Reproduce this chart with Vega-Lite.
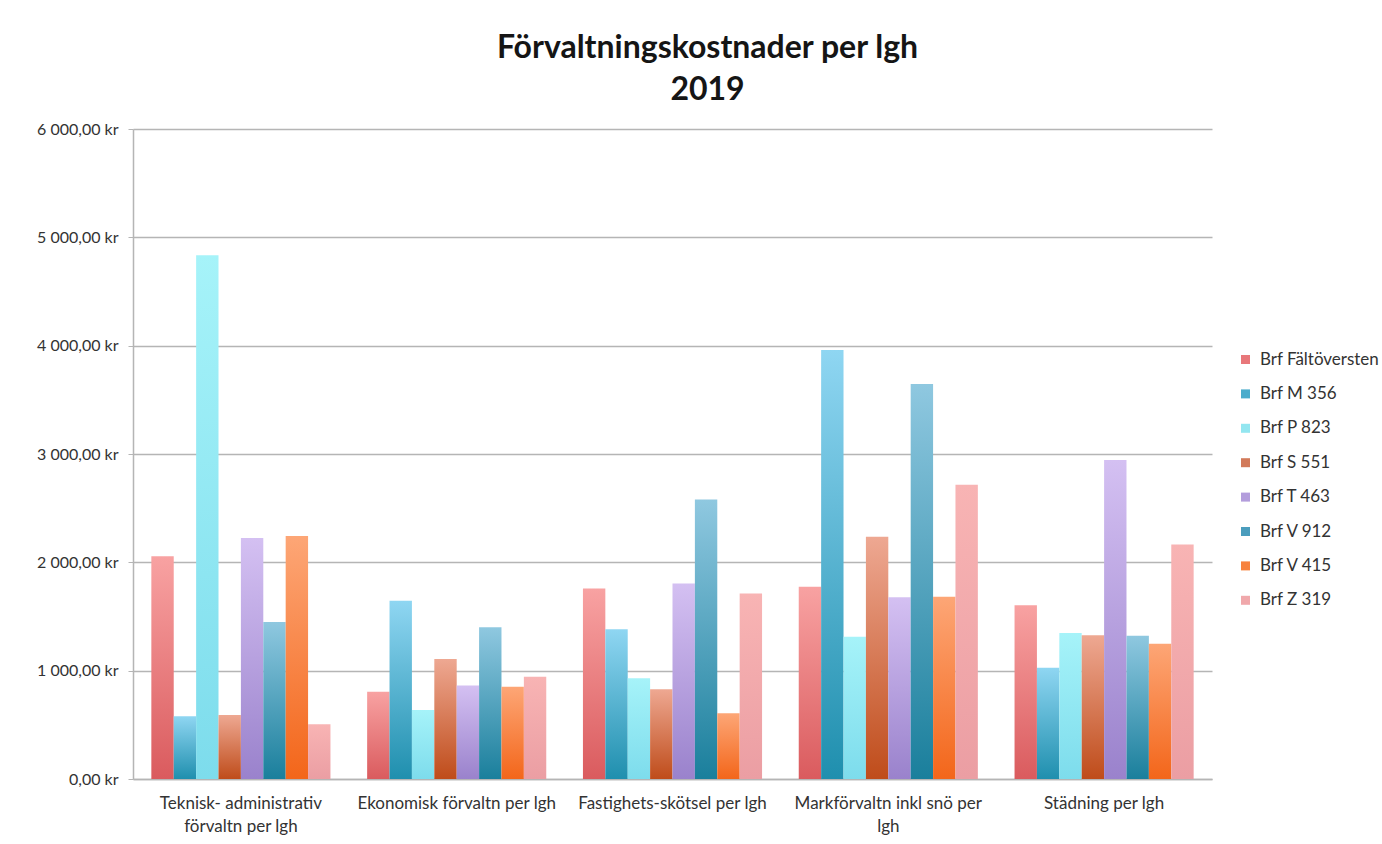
{
  "$schema": "https://vega.github.io/schema/vega-lite/v6.json",
  "width": 1079,
  "height": 650,
  "autosize": {"type": "none"},
  "padding": {"left": 133, "top": 129, "right": 170, "bottom": 65},
  "background": "white",
  "title": {
    "text": ["Förvaltningskostnader per lgh", "2019"],
    "font": "Lato",
    "fontSize": 32,
    "fontWeight": "bold",
    "color": "#151515",
    "lineHeight": 42,
    "anchor": "middle",
    "dx": 35,
    "offset": 14
  },
  "data": {
    "values": [
      {"kategori": "Teknisk- administrativ förvaltn per lgh", "brf": "Brf Fältöversten", "kostnad": 2056},
      {"kategori": "Teknisk- administrativ förvaltn per lgh", "brf": "Brf M 356", "kostnad": 580},
      {"kategori": "Teknisk- administrativ förvaltn per lgh", "brf": "Brf P 823", "kostnad": 4835},
      {"kategori": "Teknisk- administrativ förvaltn per lgh", "brf": "Brf S 551", "kostnad": 590},
      {"kategori": "Teknisk- administrativ förvaltn per lgh", "brf": "Brf T 463", "kostnad": 2225},
      {"kategori": "Teknisk- administrativ förvaltn per lgh", "brf": "Brf V 912", "kostnad": 1449},
      {"kategori": "Teknisk- administrativ förvaltn per lgh", "brf": "Brf V 415", "kostnad": 2242},
      {"kategori": "Teknisk- administrativ förvaltn per lgh", "brf": "Brf Z 319", "kostnad": 505},
      {"kategori": "Ekonomisk förvaltn per lgh", "brf": "Brf Fältöversten", "kostnad": 806},
      {"kategori": "Ekonomisk förvaltn per lgh", "brf": "Brf M 356", "kostnad": 1646},
      {"kategori": "Ekonomisk förvaltn per lgh", "brf": "Brf P 823", "kostnad": 637},
      {"kategori": "Ekonomisk förvaltn per lgh", "brf": "Brf S 551", "kostnad": 1108},
      {"kategori": "Ekonomisk förvaltn per lgh", "brf": "Brf T 463", "kostnad": 862},
      {"kategori": "Ekonomisk förvaltn per lgh", "brf": "Brf V 912", "kostnad": 1400},
      {"kategori": "Ekonomisk förvaltn per lgh", "brf": "Brf V 415", "kostnad": 852},
      {"kategori": "Ekonomisk förvaltn per lgh", "brf": "Brf Z 319", "kostnad": 945},
      {"kategori": "Fastighets-skötsel per lgh", "brf": "Brf Fältöversten", "kostnad": 1759},
      {"kategori": "Fastighets-skötsel per lgh", "brf": "Brf M 356", "kostnad": 1382},
      {"kategori": "Fastighets-skötsel per lgh", "brf": "Brf P 823", "kostnad": 930},
      {"kategori": "Fastighets-skötsel per lgh", "brf": "Brf S 551", "kostnad": 829},
      {"kategori": "Fastighets-skötsel per lgh", "brf": "Brf T 463", "kostnad": 1805},
      {"kategori": "Fastighets-skötsel per lgh", "brf": "Brf V 912", "kostnad": 2579},
      {"kategori": "Fastighets-skötsel per lgh", "brf": "Brf V 415", "kostnad": 608},
      {"kategori": "Fastighets-skötsel per lgh", "brf": "Brf Z 319", "kostnad": 1713},
      {"kategori": "Markförvaltn inkl snö per lgh", "brf": "Brf Fältöversten", "kostnad": 1775},
      {"kategori": "Markförvaltn inkl snö per lgh", "brf": "Brf M 356", "kostnad": 3960},
      {"kategori": "Markförvaltn inkl snö per lgh", "brf": "Brf P 823", "kostnad": 1314},
      {"kategori": "Markförvaltn inkl snö per lgh", "brf": "Brf S 551", "kostnad": 2237},
      {"kategori": "Markförvaltn inkl snö per lgh", "brf": "Brf T 463", "kostnad": 1677},
      {"kategori": "Markförvaltn inkl snö per lgh", "brf": "Brf V 912", "kostnad": 3646},
      {"kategori": "Markförvaltn inkl snö per lgh", "brf": "Brf V 415", "kostnad": 1683},
      {"kategori": "Markförvaltn inkl snö per lgh", "brf": "Brf Z 319", "kostnad": 2717},
      {"kategori": "Städning per lgh", "brf": "Brf Fältöversten", "kostnad": 1603},
      {"kategori": "Städning per lgh", "brf": "Brf M 356", "kostnad": 1027},
      {"kategori": "Städning per lgh", "brf": "Brf P 823", "kostnad": 1347},
      {"kategori": "Städning per lgh", "brf": "Brf S 551", "kostnad": 1326},
      {"kategori": "Städning per lgh", "brf": "Brf T 463", "kostnad": 2945},
      {"kategori": "Städning per lgh", "brf": "Brf V 912", "kostnad": 1323},
      {"kategori": "Städning per lgh", "brf": "Brf V 415", "kostnad": 1249},
      {"kategori": "Städning per lgh", "brf": "Brf Z 319", "kostnad": 2165}
    ]
  },
  "mark": {"type": "bar", "strokeWidth": 0},
  "encoding": {
    "x": {
      "field": "kategori",
      "type": "nominal",
      "sort": null,
      "scale": {"paddingInner": 0.17, "paddingOuter": 0.085},
      "axis": {
        "title": null,
        "labelAngle": 0,
        "labelFont": "Lato",
        "labelFontSize": 17,
        "labelColor": "#333333",
        "labelPadding": 16,
        "labelLineHeight": 23,
        "labelLimit": 300,
        "domainColor": "#b5b5b5",
        "domainWidth": 1.5,
        "ticks": false,
        "labelExpr": "datum.value == 'Teknisk- administrativ förvaltn per lgh' ? ['Teknisk- administrativ', 'förvaltn per lgh'] : datum.value == 'Markförvaltn inkl snö per lgh' ? ['Markförvaltn inkl snö per', 'lgh'] : datum.value"
      }
    },
    "xOffset": {
      "field": "brf",
      "type": "nominal",
      "sort": ["Brf Fältöversten", "Brf M 356", "Brf P 823", "Brf S 551", "Brf T 463", "Brf V 912", "Brf V 415", "Brf Z 319"],
      "scale": {"paddingInner": 0, "paddingOuter": 0}
    },
    "y": {
      "field": "kostnad",
      "type": "quantitative",
      "scale": {"domain": [0, 6000], "nice": false},
      "axis": {
        "title": null,
        "values": [0, 1000, 2000, 3000, 4000, 5000, 6000],
        "labelFont": "Lato",
        "labelFontSize": 16,
        "labelColor": "#333333",
        "labelPadding": 10,
        "labelExpr": "replace(replace(format(datum.value, ',.2f'), ',', ' '), '.', ',') + ' kr'",
        "grid": true,
        "gridColor": "#b5b5b5",
        "gridWidth": 1.5,
        "domainColor": "#b5b5b5",
        "domainWidth": 1.5,
        "tickColor": "#b5b5b5",
        "tickSize": 5
      }
    },
    "fill": {
      "condition": [
        {"test": "datum.brf == 'Brf Fältöversten'", "value": {"gradient": "linear", "x1": 0, "y1": 0, "x2": 0, "y2": 1, "stops": [{"offset": 0, "color": "#f8a2a2"}, {"offset": 1, "color": "#da5b5e"}]}},
        {"test": "datum.brf == 'Brf M 356'", "value": {"gradient": "linear", "x1": 0, "y1": 0, "x2": 0, "y2": 1, "stops": [{"offset": 0, "color": "#8fd6f2"}, {"offset": 1, "color": "#1f8fae"}]}},
        {"test": "datum.brf == 'Brf P 823'", "value": {"gradient": "linear", "x1": 0, "y1": 0, "x2": 0, "y2": 1, "stops": [{"offset": 0, "color": "#a6f3f9"}, {"offset": 1, "color": "#7ddcec"}]}},
        {"test": "datum.brf == 'Brf S 551'", "value": {"gradient": "linear", "x1": 0, "y1": 0, "x2": 0, "y2": 1, "stops": [{"offset": 0, "color": "#eea892"}, {"offset": 1, "color": "#bf4c1a"}]}},
        {"test": "datum.brf == 'Brf T 463'", "value": {"gradient": "linear", "x1": 0, "y1": 0, "x2": 0, "y2": 1, "stops": [{"offset": 0, "color": "#d4c0f2"}, {"offset": 1, "color": "#9a82cc"}]}},
        {"test": "datum.brf == 'Brf V 912'", "value": {"gradient": "linear", "x1": 0, "y1": 0, "x2": 0, "y2": 1, "stops": [{"offset": 0, "color": "#8fc8e0"}, {"offset": 1, "color": "#1a7f9c"}]}},
        {"test": "datum.brf == 'Brf V 415'", "value": {"gradient": "linear", "x1": 0, "y1": 0, "x2": 0, "y2": 1, "stops": [{"offset": 0, "color": "#fda676"}, {"offset": 1, "color": "#f3661a"}]}}
      ],
      "value": {"gradient": "linear", "x1": 0, "y1": 0, "x2": 0, "y2": 1, "stops": [{"offset": 0, "color": "#f8b4b4"}, {"offset": 1, "color": "#eb9ea3"}]}
    },
    "stroke": {
      "field": "brf",
      "type": "nominal",
      "scale": {
        "domain": ["Brf Fältöversten", "Brf M 356", "Brf P 823", "Brf S 551", "Brf T 463", "Brf V 912", "Brf V 415", "Brf Z 319"],
        "range": ["#e8777a", "#4aaccc", "#93e6f0", "#d27a5a", "#b39ddc", "#4b9dbd", "#f7823e", "#f0a8ab"]
      },
      "legend": {
        "title": null,
        "orient": "none",
        "legendX": 1104,
        "legendY": 222,
        "symbolType": "square",
        "symbolSize": 4,
        "symbolStrokeWidth": 7,
        "symbolFillColor": "transparent",
        "symbolOpacity": 1,
        "labelFont": "Lato",
        "labelFontSize": 17,
        "labelColor": "#333333",
        "rowPadding": 3.4,
        "labelOffset": 6
      }
    }
  },
  "config": {
    "view": {"stroke": null}
  }
}
